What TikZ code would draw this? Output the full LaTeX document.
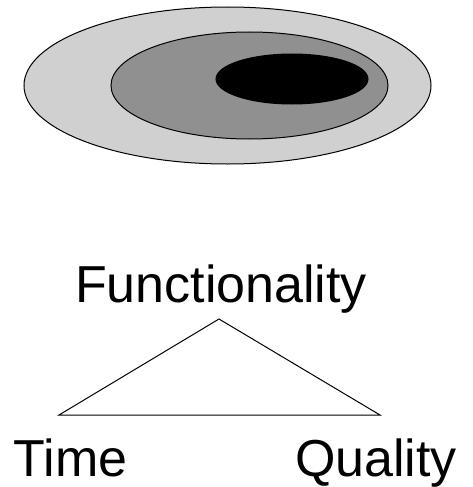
\documentclass[tikz,border=0pt]{standalone}
\usepackage{fontspec}
\setmainfont{Liberation Sans}
\usetikzlibrary{shapes.geometric, positioning}
\definecolor{ringLight}{HTML}{D0D0D0}
\definecolor{ringMid}{HTML}{909090}

\begin{document}
\begin{tikzpicture}[
    x=1pt, y=-1pt,
    ring/.style={ellipse, draw=black, line width=1pt, inner sep=0pt},
    lbl/.style={anchor=base, inner sep=0pt, font=\fontsize{52}{52}\selectfont},
    edge/.style={line width=1pt}
]
\useasboundingbox (0,0) rectangle (472,487);
% nested scope
\node[ring, fill=ringLight, minimum width=407pt, minimum height=157pt] (outer) at (227.5,85.5) {};
\node[ring, fill=ringMid, minimum width=277pt, minimum height=107pt] (mid) at (249.5,85.5) {};
\node[ring, fill=black, minimum width=152pt, minimum height=50pt] (core) at (292,79) {};
% triangle
\coordinate (apex) at (219,319);
\coordinate (lcorner) at (59,415);
\coordinate (rcorner) at (380,415);
\draw[edge] (apex) -- (lcorner) -- (rcorner) -- cycle;
\node[lbl] (func) at (221,302) {Functionality};
\node[lbl] (time) at (70.5,476) {Time};
\node[lbl] (qual) at (376,476) {Quality};
\end{tikzpicture}
\end{document}
